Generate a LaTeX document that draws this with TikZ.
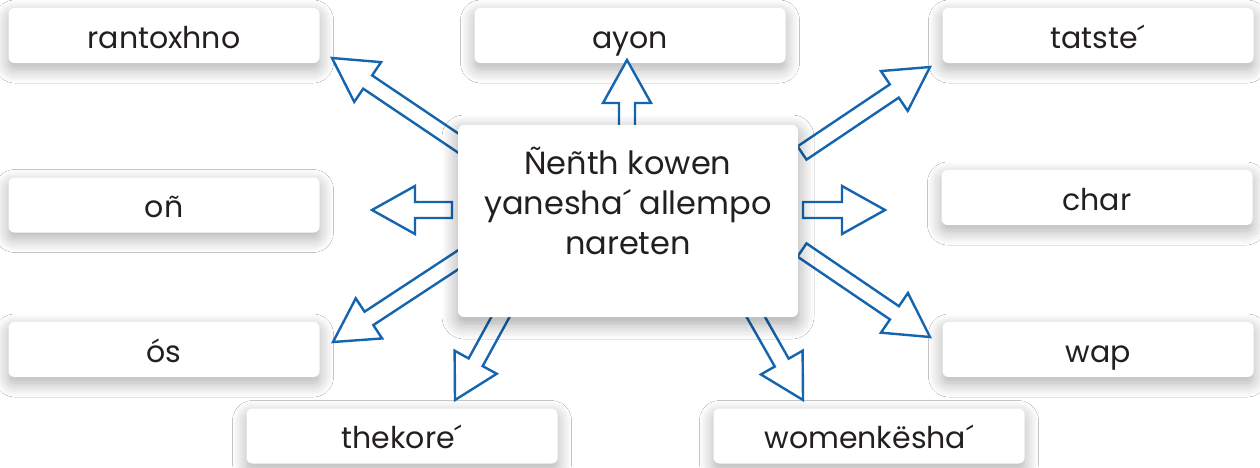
\documentclass[tikz,border=0pt]{standalone}
\usepackage{fontspec}
\setmainfont{Poppins}
\usetikzlibrary{calc,shadows.blur}
\definecolor{arrowblue}{RGB}{20,100,175}
\definecolor{txt}{RGB}{35,31,32}
\tikzset{
  lbl/.style={fill=white, rounded corners=6pt, minimum width=311pt, minimum height=55pt,
    inner sep=0pt, text height=30pt, text depth=5pt, text=txt,
    font=\fontsize{30}{36}\selectfont,
    blur shadow={shadow xshift=0pt, shadow yshift=-6pt, shadow blur radius=14pt, shadow opacity=32, shadow blur steps=12}},
  centerbox/.style={fill=white, rounded corners=6pt, minimum width=340pt, minimum height=192pt,
    inner sep=0pt,
    blur shadow={shadow xshift=0pt, shadow yshift=-6pt, shadow blur radius=16pt, shadow opacity=38, shadow blur steps=12}},
  centertext/.style={align=center, text=txt, inner sep=0pt, font=\fontsize{32}{40}\selectfont},
  barrow/.style={draw=arrowblue, line width=2.4pt, fill=white, line join=miter}
}
\newcommand{\blockarr}[2]{%
  \draw[barrow] let \p1=(#1), \p2=(#2), \n1={atan2(\y2-\y1,\x2-\x1)}, \n2={veclen(\x2-\x1,\y2-\y1)} in
    ($(#1)+(\n1+90:8pt)$) -- ($(#1)+(\n1:{\n2-43pt})+(\n1+90:8pt)$)
    -- ($(#1)+(\n1:{\n2-43pt})+(\n1+90:24pt)$) -- (#2)
    -- ($(#1)+(\n1:{\n2-43pt})+(\n1-90:24pt)$) -- ($(#1)+(\n1:{\n2-43pt})+(\n1-90:8pt)$)
    -- ($(#1)+(\n1-90:8pt)$) -- cycle;
}
\begin{document}
\begin{tikzpicture}[x=1pt,y=-1pt]
\useasboundingbox[fill=white] (0,0) rectangle (1260,467);
% outer boxes
\node[lbl] (rantoxhno) at (164,35.5) {rantoxhno};
\node[lbl] (ayon) at (630,35.5) {ayon};
\node[lbl] (tatste) at (1098,35.5) {tatste´};
\node[lbl] (on) at (164,205) {oñ};
\node[lbl] (char) at (1097,197.5) {char};
\node[lbl] (os) at (164,349.5) {ós};
\node[lbl] (wap) at (1098,349.5) {wap};
\node[lbl] (thekore) at (402,436) {thekore´};
\node[lbl] (women) at (869,436) {womenkësha´};
% arrow end points
\coordinate (t1) at (470,151); \coordinate (h1) at (332,58);
\coordinate (t2) at (627,135); \coordinate (h2) at (627,60);
\coordinate (t3) at (802,153); \coordinate (h3) at (930,67);
\coordinate (t4) at (452,210); \coordinate (h4) at (372,210);
\coordinate (t5) at (803,210); \coordinate (h5) at (885,210);
\coordinate (t6) at (470,252); \coordinate (h6) at (333,342);
\coordinate (t7) at (802,250); \coordinate (h7) at (930,337);
\coordinate (t8) at (507,305); \coordinate (h8) at (455,400);
\coordinate (t9) at (749,305); \coordinate (h9) at (803,400);
\blockarr{t1}{h1}
\blockarr{t2}{h2}
\blockarr{t3}{h3}
\blockarr{t4}{h4}
\blockarr{t5}{h5}
\blockarr{t6}{h6}
\blockarr{t7}{h7}
\blockarr{t8}{h8}
\blockarr{t9}{h9}
% centre
\node[centerbox] (centre) at (628,221) {};
\node[centertext] (centretext) at (628,201) {Ñeñth kowen\\yanesha´ allempo\\nareten};
\end{tikzpicture}
\end{document}
